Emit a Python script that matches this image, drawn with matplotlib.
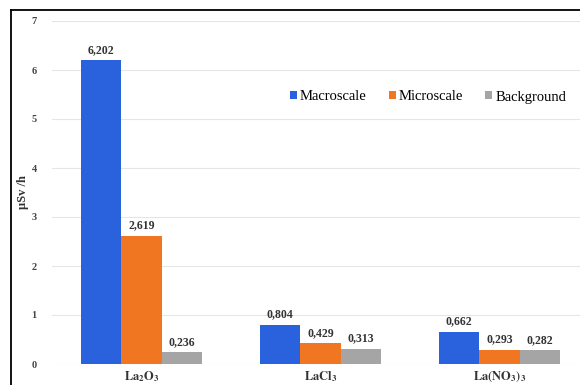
import matplotlib
matplotlib.use("Agg")
import matplotlib.pyplot as plt
from matplotlib.lines import Line2D
import numpy as np

plt.rcParams["font.family"] = ["Liberation Serif", "DejaVu Serif"]
plt.rcParams["mathtext.fontset"] = "stix"

compounds = [r"$\mathbf{La_2O_3}$", r"$\mathbf{LaCl_3}$", r"$\mathbf{La(NO_3)_3}$"]
series_names = ["Macroscale", "Microscale", "Background"]
macroscale = [6.202, 0.804, 0.662]
microscale = [2.619, 0.429, 0.293]
background = [0.236, 0.313, 0.282]
colors = ["#2962DC", "#F07622", "#A5A5A5"]

W, H = 580, 385
fig = plt.figure(figsize=(W / 100, H / 100), dpi=100)
ax = fig.add_axes([52 / W, 21 / H, 528 / W, 343 / H])

x = np.arange(len(compounds))
width = 0.225
for i, (name, vals) in enumerate(zip(series_names, [macroscale, microscale, background])):
    pos = x + (i - 1) * width
    ax.bar(pos, vals, width, color=colors[i], label=name, zorder=3)
    for px, v in zip(pos, vals):
        ax.annotate(f"{v:.3f}".replace(".", ","), (px, v), xytext=(0, 3),
                    textcoords="offset points", ha="center", va="bottom",
                    fontsize=8.5, fontweight="bold", color="#333333")

ax.set_xlim(-0.5, 2.45)
ax.set_ylim(0, 7)
ax.set_yticks(range(8))
ax.set_yticklabels([str(t) for t in range(8)], fontsize=7.5, fontweight="bold", color="#444444")
ax.set_xticks(x)
ax.set_xticklabels(compounds, fontsize=9, color="#333333")
ax.tick_params(axis="both", length=0)
ax.tick_params(axis="y", pad=11)
ax.tick_params(axis="x", pad=4)
ax.grid(axis="y", color="#E6E6E6", linewidth=0.8, zorder=0)
for s in ax.spines.values():
    s.set_visible(False)
ax.set_ylabel("μSv /h", fontsize=9, fontweight="bold", color="#333333", labelpad=2)

fig.legend(loc="center", bbox_to_anchor=(428 / W, 1 - 97 / H), ncol=3, frameon=False,
           fontsize=10.5, handlelength=0.5, handleheight=0.5, handletextpad=0.2,
           columnspacing=1.5)

# outer frame (top and left edges)
fig.add_artist(Line2D([11 / W, 1], [1 - 10 / H, 1 - 10 / H], color="black", linewidth=1.3))
fig.add_artist(Line2D([11 / W, 11 / W], [0, 1 - 10 / H], color="black", linewidth=1.3))

fig.savefig("out.png", dpi=100)
